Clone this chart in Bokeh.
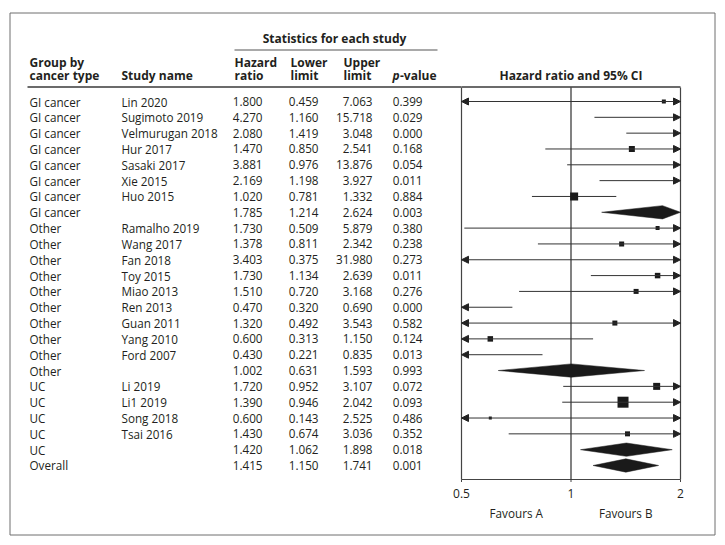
import math
from bokeh.plotting import figure
from bokeh.models import ColumnDataSource, Range1d, LogScale, Arrow, NormalHead
from bokeh.core.properties import value
from bokeh.embed import file_html
from bokeh.resources import INLINE

# ---------------- data ----------------
groups = ["GI cancer"] * 8 + ["Other"] * 10 + ["UC"] * 5 + ["Overall"]
studies = ["Lin 2020", "Sugimoto 2019", "Velmurugan 2018", "Hur 2017", "Sasaki 2017",
           "Xie 2015", "Huo 2015", "",
           "Ramalho 2019", "Wang 2017", "Fan 2018", "Toy 2015", "Miao 2013", "Ren 2013",
           "Guan 2011", "Yang 2010", "Ford 2007", "",
           "Li 2019", "Li1 2019", "Song 2018", "Tsai 2016", "",
           ""]
hazard_ratio = [1.800, 4.270, 2.080, 1.470, 3.881, 2.169, 1.020, 1.785,
                1.730, 1.378, 3.403, 1.730, 1.510, 0.470, 1.320, 0.600, 0.430, 1.002,
                1.720, 1.390, 0.600, 1.430, 1.420,
                1.415]
lower_limit = [0.459, 1.160, 1.419, 0.850, 0.976, 1.198, 0.781, 1.214,
               0.509, 0.811, 0.375, 1.134, 0.720, 0.320, 0.492, 0.313, 0.221, 0.631,
               0.952, 0.946, 0.143, 0.674, 1.062,
               1.150]
upper_limit = [7.063, 15.718, 3.048, 2.541, 13.876, 3.927, 1.332, 2.624,
               5.879, 2.342, 31.980, 2.639, 3.168, 0.690, 3.543, 1.150, 0.835, 1.593,
               3.107, 2.042, 2.525, 3.036, 1.898,
               1.741]
p_values = [0.399, 0.029, 0.000, 0.168, 0.054, 0.011, 0.884, 0.003,
            0.380, 0.238, 0.273, 0.011, 0.276, 0.000, 0.582, 0.124, 0.013, 0.993,
            0.072, 0.093, 0.486, 0.352, 0.018,
            0.001]
is_summary = [False] * 7 + [True] + [False] * 9 + [True] + [False] * 4 + [True] + [True]
# square marker sizes (px) (relative study weights)
square_px = [4, 4, 7, 6, 4, 6, 8, 0,
             4, 5, 3, 5.5, 5, 7, 5, 5.5, 5, 0,
             7, 11, 3, 5, 0,
             0]
axis_ticks = [0.5, 1, 2]
axis_labels = ["0.5", "1", "2"]
favour_labels = ["Favours A", "Favours B"]

# ---------------- styling / layout ----------------
FONT = value("Open Sans")
TXT = "#231f20"
FS = "11.7px"
FSH = "12px"
BORDER = "#6e6e6e"
ROW_H = 15.826
ROW0 = 101.0
AX_MIN, AX_MAX = axis_ticks[0], axis_ticks[-1]
PX_OCT = 109.5
W, H = 720, 540
BOX_L, BOX_R = 461, 680


def ry(page_y):
    return (page_y - ROW0) / ROW_H


n = len(groups)
rows = list(range(n))

hr_start = AX_MIN * 2 ** (-BOX_L / PX_OCT)
hr_end = AX_MAX * 2 ** ((W - BOX_R) / PX_OCT)

p = figure(width=W, height=H, x_range=Range1d(0, W), y_range=Range1d(ry(H), ry(0)),
           output_backend="svg", toolbar_location=None, min_border=0,
           x_axis_location=None, y_axis_location=None)
p.extra_x_ranges = {"hr": Range1d(hr_start, hr_end)}
p.extra_x_scales = {"hr": LogScale()}
p.outline_line_color = None
p.xgrid.visible = False
p.ygrid.visible = False

# ---------------- outer frame ----------------
p.quad(left=[9.5], right=[714.5], top=[ry(12.5)], bottom=[ry(534.5)], fill_color=None,
       line_color=BORDER, line_width=1)

# ---------------- table ----------------
src = ColumnDataSource(dict(
    y=rows, group=groups, study=studies,
    hr=[f"{v:.3f}" for v in hazard_ratio],
    lo=[f"{v:.3f}" for v in lower_limit],
    up=[f"{v:.3f}" for v in upper_limit],
    pv=[f"{v:.3f}" for v in p_values],
))
common = dict(text_font=FONT, text_font_size=FS, text_color=TXT, text_baseline="middle")
p.text(x=29, y="y", text="group", source=src, text_align="left", **common)
p.text(x=121, y="y", text="study", source=src, text_align="left", **common)
p.text(x=262, y="y", text="hr", source=src, text_align="right", **common)
p.text(x=318, y="y", text="lo", source=src, text_align="right", **common)
p.text(x=372, y="y", text="up", source=src, text_align="right", **common)
p.text(x=422, y="y", text="pv", source=src, text_align="right", **common)

hdr = dict(text_font=FONT, text_font_size=FSH, text_color=TXT, text_baseline="middle",
           text_font_style="bold", text_align="left")
header_x = [29, 29, 121, 234, 234, 290, 290, 343, 343, 399.5]
header_y = [ry(62), ry(75), ry(75), ry(62), ry(75), ry(62), ry(75), ry(62), ry(75), ry(75)]
header_t = ["Group by", "cancer type", "Study name", "Hazard", "ratio", "Lower", "limit",
            "Upper", "limit", "-value"]
p.text(x=header_x, y=header_y, text=header_t, **hdr)
p.text(x=[392], y=[ry(75)], text=["p"], text_font=FONT, text_font_size=FSH, text_color=TXT,
       text_baseline="middle", text_font_style="bold italic", text_align="left")
p.text(x=[334], y=[ry(38)], text=["Statistics for each study"], text_font=FONT,
       text_font_size=FSH, text_color=TXT, text_baseline="middle", text_font_style="bold",
       text_align="center")
p.segment(x0=[234], y0=[ry(49.5)], x1=[437], y1=[ry(49.5)], line_color="#555555", line_width=1.2)
p.segment(x0=[27], y0=[ry(86.5)], x1=[BOX_L], y1=[ry(86.5)], line_color="#6b6b6b", line_width=1.8)

# ---------------- forest panel (log scale "hr") ----------------
HR = dict(x_range_name="hr")
p.segment(x0=[AX_MIN], y0=[ry(86.5)], x1=[AX_MAX], y1=[ry(86.5)], line_color="#6b6b6b",
          line_width=1.8, **HR)
p.segment(x0=[AX_MIN, AX_MAX, AX_MIN], y0=[ry(87), ry(87), ry(479)],
          x1=[AX_MIN, AX_MAX, AX_MAX], y1=[ry(479), ry(479), ry(479)],
          line_color="#444444", line_width=1.2, **HR)
p.segment(x0=[1], y0=[ry(87)], x1=[1], y1=[ry(479)], line_color="#1a1a1a", line_width=1.1, **HR)
# tick marks and tick labels of the log axis
p.segment(x0=axis_ticks, y0=[ry(479)] * 3, x1=axis_ticks, y1=[ry(481.5)] * 3,
          line_color="#444444", line_width=1, **HR)
p.text(x=axis_ticks, y=[ry(493)] * 3, text=axis_labels, text_font=FONT, text_font_size="12px",
       text_color=TXT, text_baseline="middle", text_align="center", **HR)
fav_ticks = [math.sqrt(axis_ticks[0] * axis_ticks[1]), math.sqrt(axis_ticks[1] * axis_ticks[2])]
p.text(x=fav_ticks, y=[ry(512)] * 2, text=favour_labels, text_font=FONT, text_font_size=FS,
       text_color=TXT, text_baseline="middle", text_align="center", **HR)

p.text(x=[1], y=[ry(75)], text=["Hazard ratio and 95% CI"], text_font=FONT, text_font_size=FSH,
       text_color=TXT, text_baseline="middle", text_align="center", text_font_style="bold", **HR)

LINE = "#333333"
lo_c = [max(v, AX_MIN) for v in lower_limit]
hi_c = [min(v, AX_MAX) for v in upper_limit]

classes = {"none": [], "right": [], "left": [], "both": []}
for i in rows:
    if is_summary[i]:
        continue
    lft = lower_limit[i] < AX_MIN
    rgt = upper_limit[i] > AX_MAX
    key = "both" if (lft and rgt) else "left" if lft else "right" if rgt else "none"
    classes[key].append(i)


def sub(idx):
    return ColumnDataSource(dict(x0=[lo_c[i] for i in idx], x1=[hi_c[i] for i in idx],
                                 y=[rows[i] for i in idx]))


p.segment(x0="x0", y0="y", x1="x1", y1="y", source=sub(classes["none"]), line_color=LINE,
          line_width=1, **HR)


def head():
    return NormalHead(size=7, fill_color="#222222", line_color="#222222", line_width=1)


p.add_layout(Arrow(source=sub(classes["right"]), x_start="x0", y_start="y", x_end="x1", y_end="y",
                   end=head(), line_color=LINE, line_width=1, **HR))
p.add_layout(Arrow(source=sub(classes["left"]), x_start="x1", y_start="y", x_end="x0", y_end="y",
                   end=head(), line_color=LINE, line_width=1, **HR))
p.add_layout(Arrow(source=sub(classes["both"]), x_start="x0", y_start="y", x_end="x1", y_end="y",
                   start=head(), end=head(), line_color=LINE, line_width=1, **HR))

# squares (only those whose point estimate lies within the axis)
sq = [i for i in rows if not is_summary[i] and AX_MIN <= hazard_ratio[i] <= AX_MAX]
p.scatter(x=[hazard_ratio[i] for i in sq], y=[rows[i] for i in sq], size=[square_px[i] for i in sq],
          marker="square", fill_color="#1a1a1a", line_color=None, **HR)

# diamonds for summary rows (clipped to the axis limits)
DH = 0.42
dm = [i for i in rows if is_summary[i]]
p.patches(xs=[[lo_c[i], hazard_ratio[i], hi_c[i], hazard_ratio[i]] for i in dm],
          ys=[[rows[i], rows[i] - DH, rows[i], rows[i] + DH] for i in dm],
          fill_color="#1a1a1a", line_color="#1a1a1a", line_width=0.5, **HR)

open("out.html", "w").write(file_html(p, INLINE))
